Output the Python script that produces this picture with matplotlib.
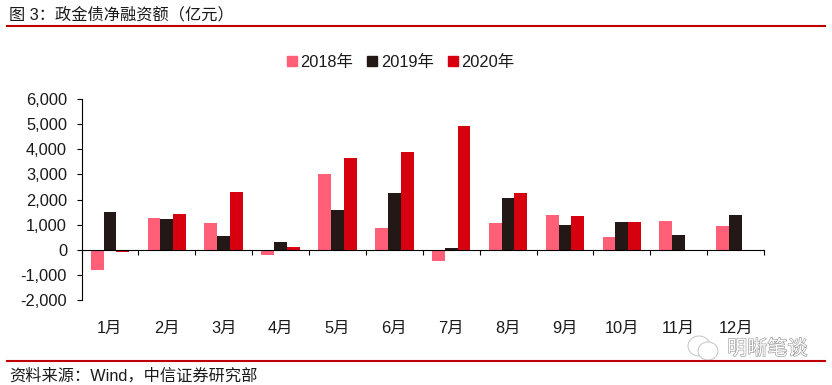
import numpy as np
import matplotlib
matplotlib.use("Agg")
import matplotlib.pyplot as plt
import matplotlib.patheffects as pe
from matplotlib.lines import Line2D
from matplotlib.patches import Ellipse

plt.rcParams["font.family"] = ["Liberation Sans", "Noto Sans CJK SC"]

months = ["1月", "2月", "3月", "4月", "5月", "6月", "7月", "8月", "9月", "10月", "11月", "12月"]
v2018 = [-800, 1280, 1050, -220, 3020, 870, -450, 1070, 1370, 490, 1150, 950]
v2019 = [1520, 1240, 540, 320, 1590, 2250, 50, 2040, 990, 1110, 590, 1380]
v2020 = [-70, 1430, 2300, 90, 3670, 3880, 4930, 2240, 1360, 1090, np.nan, np.nan]
y_ticks = [-2000, -1000, 0, 1000, 2000, 3000, 4000, 5000, 6000]

W, H = 832, 385
PINK, DARK, RED, RULE = "#FF6078", "#231815", "#D7000F", "#C00000"
TEXT = "#1a1a1a"

fig = plt.figure(figsize=(W / 100, H / 100), dpi=100)
ax = fig.add_axes([81.5 / W, 1 - 300 / H, (764 - 81.5) / W, 201 / H])

# Bars, three per month
x = np.arange(len(months))
bw = 0.225
ax.bar(x - bw, v2018, bw, color=PINK, label="2018年")
ax.bar(x, v2019, bw, color=DARK, label="2019年")
ax.bar(x + bw, v2020, bw, color=RED, label="2020年")

ax.set_xlim(-0.5, 11.5)
ax.set_ylim(-2000, 6000)
ax.set_yticks(y_ticks)
ax.set_yticklabels([f"{v:,}" for v in y_ticks], fontsize=11.8, color=TEXT)
ax.tick_params(axis="y", length=3.6, width=0.8, pad=6.8)

# Axis runs along zero, ticks sit between months, labels stay low
ax.spines["bottom"].set_position(("data", 0))
ax.spines["top"].set_visible(False)
ax.spines["right"].set_visible(False)
ax.set_xticks(x)
ax.set_xticklabels(months, fontsize=11.8, color=TEXT)
ax.tick_params(axis="x", which="major", length=0, pad=51.5)
ax.set_xticks(np.arange(-0.5, 12), minor=True)
ax.tick_params(axis="x", which="minor", length=3.6, width=0.8)

# Legend above the plot
handles = [
    Line2D([], [], ls="", marker="s", ms=6.6, color=c, label=l)
    for c, l in [(PINK, "2018年"), (DARK, "2019年"), (RED, "2020年")]
]
fig.legend(handles=handles, loc="center", bbox_to_anchor=(399 / W, 1 - 62 / H), ncol=3,
           frameon=False, fontsize=11.8, handletextpad=0.0, columnspacing=0.71,
           handlelength=1.0, labelcolor=TEXT)

# Watermark
fig.text(727 / W, 1 - 349 / H, "明晰笔谈", fontsize=14.5, color="white", va="center",
         path_effects=[pe.withStroke(linewidth=0.9, foreground="#9a9a9a")])
for cx, cy, ew, eh in [(699, 346, 22, 20), (708, 351, 20, 18)]:
    fig.add_artist(Ellipse((cx / W, 1 - cy / H), ew / W, eh / H, fc="white", ec="#c4c4c4", lw=0.7,
                           transform=fig.transFigure))

# Title, source and the two red rules
fig.text(9 / W, 1 - 15 / H, "图 3：政金债净融资额（亿元）", fontsize=11.7, color=TEXT, va="center")
fig.text(9 / W, 1 - 376 / H, "资料来源：Wind，中信证券研究部", fontsize=11.7, color=TEXT, va="center")
for yp in (26, 361):
    fig.add_artist(Line2D([7 / W, 825 / W], [1 - yp / H] * 2, color=RULE, lw=1.5))

fig.savefig("out.png", dpi=100)
